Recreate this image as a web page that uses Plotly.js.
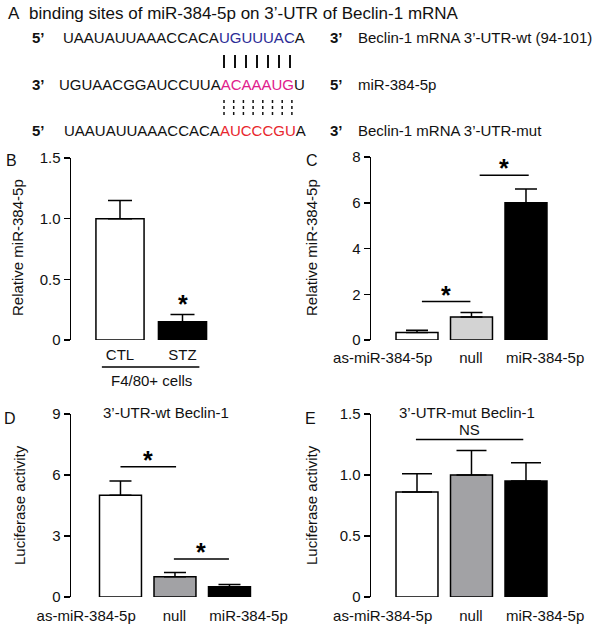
<!DOCTYPE html>
<html>
<head>
<meta charset="utf-8">
<script src="https://cdn.plot.ly/plotly-3.0.1.min.js"></script>
<style>
  body { margin: 0; background: #fff; }
  #plot { width: 600px; height: 627px; }
</style>
</head>
<body>
<div id="plot"></div>
<script>
/*
miR-384-5p / Beclin-1 figure, panels A-E
*/

var fontFam = 'Liberation Sans, Arial, sans-serif';

// panel A sequences: [before site, site, after site]
var seqWt = ['UAAUAUUAAACCACA', 'UGUUUAC', 'A'];
var seqMir = ['UGUAACGGAUCCUUA', 'ACAAAUG', 'U'];
var seqMut = ['UAAUAUUAAACCACA', 'AUCCCGU', 'A'];

// panel B
var bCats = ['CTL', 'STZ'];
var bVals = [1.0, 0.15];
var bErr = [0.15, 0.06];

// panels C-E share categories
var grpCats = ['as-miR-384-5p', 'null', 'miR-384-5p'];
var cVals = [0.33, 1.0, 6.0];
var cErr = [0.1, 0.2, 0.6];
var dVals = [5.0, 1.0, 0.5];
var dErr = [0.7, 0.2, 0.12];
var eVals = [0.86, 1.0, 0.95];
var eErr = [0.15, 0.2, 0.15];

// y tick labels
var bTicks = [0, 0.5, 1, 1.5];
var bTickText = ['0', '0.5', '1.0', '1.5'];
var cTicks = [0, 2, 4, 6, 8];
var dTicks = [0, 3, 6, 9];
var eTicks = [0, 0.5, 1, 1.5];
var eTickText = ['0', '0.5', '1.0', '1.5'];

// significance brackets [x from, x to, height]
var cSig = [[0.09, 0.98, 1.68], [1.15, 2.05, 7.2]];
var dSig = [[0.0, 1.02, 6.4], [0.98, 1.99, 1.87]];
var eSig = [[-0.02, 1.95, 1.29]];

// page pixel -> paper
function px(x) { return x / 600; }
function py(y) { return 1 - y / 627; }

// the long group labels sit a bit off their bars in the original
var grpLabelPos = [-0.63, 0.99, 2.35];

function bars(vals, errs, colors, xa, ya, capW) {
  return {
    type: 'bar',
    x: vals.map(function (v, i) { return i; }),
    y: vals,
    xaxis: xa,
    yaxis: ya,
    width: 0.77,
    marker: { color: colors, line: { color: '#000', width: 1.5 } },
    error_y: {
      type: 'data', symmetric: false,
      array: errs,
      arrayminus: errs.map(function () { return 0; }),
      color: '#000', thickness: 1.5, width: capW
    },
    hoverinfo: 'none'
  };
}

function sigLine(s, xa, ya) {
  return {
    type: 'scatter', mode: 'lines',
    x: [s[0], s[1]], y: [s[2], s[2]],
    xaxis: xa, yaxis: ya,
    line: { color: '#000', width: 1.5 },
    hoverinfo: 'none'
  };
}

var data = [
  bars(bVals, bErr, ['#fff', '#000'], 'x', 'y', 12),
  bars(cVals, cErr, ['#fff', '#d3d3d3', '#000'], 'x2', 'y2', 11),
  bars(dVals, dErr, ['#fff', '#a2a2a5', '#000'], 'x3', 'y3', 11),
  bars(eVals, eErr, ['#fff', '#a2a2a5', '#000'], 'x4', 'y4', 15)
];
cSig.forEach(function (s) { data.push(sigLine(s, 'x2', 'y2')); });
dSig.forEach(function (s) { data.push(sigLine(s, 'x3', 'y3')); });
eSig.forEach(function (s) { data.push(sigLine(s, 'x4', 'y4')); });

function xAxis(anchor, domain, range, labels, pos, tlen) {
  return {
    anchor: anchor,
    domain: domain, range: range,
    tickvals: pos || labels.map(function (l, i) { return i; }),
    ticktext: labels,
    tickangle: 0,
    ticks: 'outside', ticklen: tlen, tickcolor: 'rgba(0,0,0,0)',
    showline: false, zeroline: false, showgrid: false,
    tickfont: { size: 15, color: '#111' },
    fixedrange: true
  };
}

function yAxis(anchor, domain, range, vals, text) {
  return {
    anchor: anchor,
    domain: domain, range: range,
    tickvals: vals, ticktext: text || vals.map(String),
    ticks: 'outside', ticklen: 6, tickwidth: 1.5, tickcolor: '#000',
    showline: true, linewidth: 1.5, linecolor: '#000',
    zeroline: false, showgrid: false,
    tickfont: { size: 15, color: '#111' },
    fixedrange: true
  };
}

var annotations = [];
var shapes = [];

function txt(x, y, text, opts) {
  var a = {
    xref: 'paper', yref: 'paper', x: px(x), y: py(y),
    text: text, showarrow: false,
    xanchor: 'left', yanchor: 'middle',
    font: { size: 15, color: '#111', family: fontFam }
  };
  for (var k in (opts || {})) a[k] = opts[k];
  return a;
}

function seqText(seq, color) {
  return seq[0] + '<span style="color:' + color + '">' + seq[1] + '</span>' + seq[2];
}

var bigFont = { size: 17, color: '#111', family: fontFam };
var letterFont = { size: 16, color: '#111', family: fontFam };

// panel A
annotations.push(txt(6, 13, 'A', { font: bigFont }));
annotations.push(txt(27, 13, 'binding sites of miR-384-5p on 3’-UTR of Beclin-1 mRNA', { font: bigFont }));

var rows = [
  { y: 38, end5: '5’', seq: seqWt, col: '#2b2b96', end3: '3’', label: 'Beclin-1 mRNA 3’-UTR-wt (94-101)', sx: 61 },
  { y: 84, end5: '3’', seq: seqMir, col: '#e0208c', end3: '5’', label: 'miR-384-5p', sx: 57 },
  { y: 131, end5: '5’', seq: seqMut, col: '#e8262d', end3: '3’', label: 'Beclin-1 mRNA 3’-UTR-mut', sx: 62 }
];
rows.forEach(function (r) {
  annotations.push(txt(30, r.y, '<b>' + r.end5 + '</b>'));
  annotations.push(txt(r.sx, r.y, seqText(r.seq, r.col)));
  annotations.push(txt(328, r.y, '<b>' + r.end3 + '</b>'));
  annotations.push(txt(356, r.y, r.label));
});

// base pairing marks
for (var i = 0; i < 7; i++) {
  shapes.push({ type: 'line', xref: 'paper', yref: 'paper',
    x0: px(224 + 11 * i), x1: px(224 + 11 * i), y0: py(55), y1: py(68),
    line: { color: '#111', width: 2 } });
}
for (var j = 0; j < 8; j++) {
  shapes.push({ type: 'line', xref: 'paper', yref: 'paper',
    x0: px(224 + 9.7 * j), x1: px(224 + 9.7 * j), y0: py(100), y1: py(115),
    line: { color: '#111', width: 1.5, dash: 'dot' } });
}

// panel letters
annotations.push(txt(4, 161, 'B', { font: letterFont }));
annotations.push(txt(304, 161, 'C', { font: letterFont }));
annotations.push(txt(2, 418, 'D', { font: letterFont }));
annotations.push(txt(303, 418, 'E', { font: letterFont }));

// y titles
function yTitle(x, y, text) {
  return txt(x, y, text, { xanchor: 'center', yanchor: 'middle', textangle: -90 });
}
annotations.push(yTitle(18, 248, 'Relative miR-384-5p'));
annotations.push(yTitle(312, 248, 'Relative miR-384-5p'));
annotations.push(yTitle(19, 505, 'Luciferase activity'));
annotations.push(yTitle(311, 505, 'Luciferase activity'));

// D / E titles
annotations.push(txt(166, 412, '3’-UTR-wt Beclin-1', { xanchor: 'center' }));
annotations.push(txt(467, 412, '3’-UTR-mut Beclin-1', { xanchor: 'center' }));

// B group underline and label
shapes.push({ type: 'line', xref: 'x', yref: 'paper', x0: -0.29, x1: 1.27,
  y0: py(367), y1: py(367), line: { color: '#000', width: 1.5 } });
annotations.push({ xref: 'x', yref: 'paper', x: 0.5, y: py(381), text: 'F4/80+ cells',
  showarrow: false, xanchor: 'center', yanchor: 'middle',
  font: { size: 15, color: '#111', family: fontFam } });

// stars
function star(xa, ya, x, y, shift) {
  return { xref: xa, yref: ya, x: x, y: y, text: '<b>*</b>', showarrow: false,
    xanchor: 'center', yanchor: 'bottom', yshift: shift,
    font: { size: 25, color: '#000', family: fontFam } };
}
annotations.push(star('x', 'y', 1, bVals[1] + bErr[1], -5));
cSig.forEach(function (s) { annotations.push(star('x2', 'y2', (s[0] + s[1]) / 2, s[2], -9)); });
dSig.forEach(function (s) { annotations.push(star('x3', 'y3', (s[0] + s[1]) / 2, s[2], -9)); });
annotations.push({ xref: 'x4', yref: 'y4', x: (eSig[0][0] + eSig[0][1]) / 2, y: eSig[0][2],
  text: 'NS', showarrow: false, xanchor: 'center', yanchor: 'bottom', yshift: 0,
  font: { size: 15, color: '#111', family: fontFam } });

var layout = {
  width: 600, height: 627,
  margin: { l: 0, r: 0, t: 0, b: 0 },
  paper_bgcolor: '#fff', plot_bgcolor: 'rgba(0,0,0,0)',
  showlegend: false,
  font: { family: fontFam, size: 15, color: '#111' },
  bargap: 0,
  xaxis: xAxis('y', [px(71), px(231)], [-0.784, 1.776], bCats, null, 1),
  yaxis: yAxis('x', [py(340), py(158)], [0, 1.5], bTicks, bTickText),
  xaxis2: xAxis('y2', [px(371), px(580)], [-0.844, 2.991], grpCats, grpLabelPos, 4),
  yaxis2: yAxis('x2', [py(340), py(157)], [0, 8], cTicks),
  xaxis3: xAxis('y3', [px(71), px(280)], [-0.908, 2.927], grpCats, grpLabelPos, 5),
  yaxis3: yAxis('x3', [py(597), py(414)], [0, 9], dTicks),
  xaxis4: xAxis('y4', [px(371), px(580)], [-0.844, 2.991], grpCats, grpLabelPos, 5),
  yaxis4: yAxis('x4', [py(597), py(414)], [0, 1.5], eTicks, eTickText),
  annotations: annotations,
  shapes: shapes
};

Plotly.newPlot('plot', data, layout, { displayModeBar: false, staticPlot: true });
</script>
</body>
</html>
